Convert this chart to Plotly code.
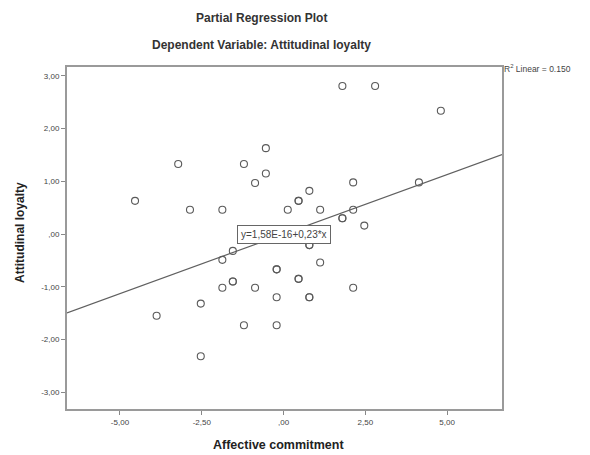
import plotly.graph_objects as go

# Data (partial regression residuals)
affective_commitment = [
    -4.54, -3.22, -2.86, -1.87, -1.21, -0.54, -0.54, -0.87, 0.13, -1.55,
    -1.87, -0.21, -0.21, -1.55, -1.55, -1.87, -0.87, -0.21, -2.53, -3.88,
    -1.21, -0.21, -2.53, 1.80, 2.80, 4.81, 2.13, 4.14, 0.79, 0.46,
    0.46, 1.12, 2.13, 1.80, 1.80, 2.47, 0.79, 0.79, 1.12, 0.46,
    0.46, 2.13, 0.79, 0.79,
]
attitudinal_loyalty = [
    0.63, 1.33, 0.46, 0.46, 1.33, 1.63, 1.15, 0.97, 0.46, -0.32,
    -0.49, -0.67, -0.67, -0.90, -0.90, -1.02, -1.02, -1.20, -1.32, -1.55,
    -1.73, -1.73, -2.32, 2.81, 2.81, 2.34, 0.98, 0.98, 0.82, 0.63,
    0.63, 0.46, 0.46, 0.30, 0.30, 0.16, -0.21, -0.21, -0.54, -0.85,
    -0.85, -1.02, -1.20, -1.20,
]

fit_intercept = 0.0
fit_slope = 0.226
fit_x = [-6.62, 6.68]
fit_label = "y=1,58E-16+0,23*x"
r2_label = "R<sup>2</sup> Linear = 0.150"

x_tickvals = [-5.0, -2.5, 0.0, 2.5, 5.0]
x_ticktext = ["-5,00", "-2,50", ",00", "2,50", "5,00"]
y_tickvals = [3, 2, 1, 0, -1, -2, -3]
y_ticktext = ["3,00", "2,00", "1,00", ",00", "-1,00", "-2,00", "-3,00"]

FONT = "Liberation Sans, Arial, sans-serif"

fig = go.Figure()
fig.add_trace(go.Scatter(
    x=fit_x,
    y=[fit_intercept + fit_slope * v for v in fit_x],
    mode="lines",
    line=dict(color="#606060", width=1.2),
    hoverinfo="skip",
    showlegend=False,
))
fig.add_trace(go.Scatter(
    x=affective_commitment,
    y=attitudinal_loyalty,
    mode="markers",
    marker=dict(symbol="circle-open", size=7, color="#5a5a5a", line=dict(width=1.1)),
    showlegend=False,
))

# regression equation label at the centroid
fig.add_annotation(
    x=0, y=0, xref="x", yref="y", text=fit_label, showarrow=False,
    font=dict(family=FONT, size=10, color="#444444"),
    bgcolor="white", bordercolor="#666666", borderwidth=1, borderpad=3,
)
# R^2 legend text, right of the plot frame
fig.add_annotation(
    x=1.0, y=0.997, xref="paper", yref="paper", xanchor="left", yanchor="middle",
    xshift=0, text=r2_label, showarrow=False,
    font=dict(family=FONT, size=8.5, color="#444444"),
)
# titles
fig.add_annotation(
    x=0.448, y=1.143, xref="paper", yref="paper", xanchor="center", yanchor="middle",
    text="<b>Partial Regression Plot</b>", showarrow=False,
    font=dict(family=FONT, size=12, color="#333333"),
)
fig.add_annotation(
    x=0.448, y=1.064, xref="paper", yref="paper", xanchor="center", yanchor="middle",
    text="<b>Dependent Variable: Attitudinal loyalty</b>", showarrow=False,
    font=dict(family=FONT, size=12, color="#333333"),
)
# axis titles
fig.add_annotation(
    x=0.487, y=-0.105, xref="paper", yref="paper", xanchor="center", yanchor="middle",
    text="<b>Affective commitment</b>", showarrow=False,
    font=dict(family=FONT, size=12.5, color="#222222"),
)
fig.add_annotation(
    x=-0.108, y=0.515, xref="paper", yref="paper", xanchor="center", yanchor="middle",
    text="<b>Attitudinal loyalty</b>", showarrow=False, textangle=-90,
    font=dict(family=FONT, size=12, color="#222222"),
)

axis_common = dict(
    showgrid=False, zeroline=False, showline=True, mirror=True,
    linecolor="#9a9a9a", linewidth=2, ticks="outside", ticklen=4,
    tickcolor="#888888", tickwidth=1,
    tickfont=dict(family=FONT, size=8, color="#444444"),
)

# page body adds an 8px margin, so the figure is drawn 8px smaller
fig.update_layout(
    width=582, height=447,
    paper_bgcolor="white", plot_bgcolor="white",
    margin=dict(l=59, r=88, t=59, b=46),
    xaxis=dict(range=[-6.62, 6.68], tickvals=x_tickvals, ticktext=x_ticktext, **axis_common),
    yaxis=dict(range=[-3.32, 3.17], tickvals=y_tickvals, ticktext=y_ticktext, **axis_common),
)

fig.write_html("out.html")
